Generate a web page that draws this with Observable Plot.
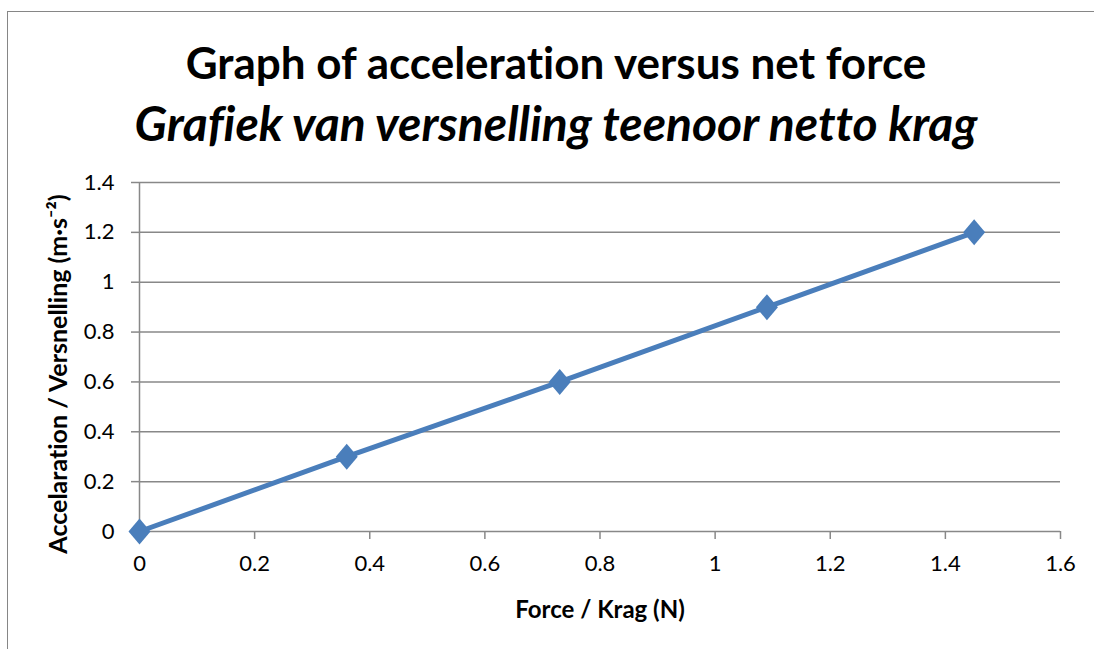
<!DOCTYPE html>
<html>
<head>
<meta charset="utf-8">
<script src="https://cdn.jsdelivr.net/npm/d3@7"></script>
<script src="https://cdn.jsdelivr.net/npm/@observablehq/plot@0.6"></script>
<style>
  html, body { margin: 0; padding: 0; background: #fff; }
  #wrap { position: relative; width: 1094px; height: 649px; overflow: hidden; font-family: Lato, "Open Sans", sans-serif; font-variant-ligatures: none; }
  #frame { position: absolute; left: 7px; top: 11px; width: 1100px; height: 700px; border: 1.5px solid #868686; box-sizing: border-box; }
  .t { position: absolute; left: 0; width: 1112px; text-align: center; color: #000; font-weight: bold; white-space: nowrap; }
  #t1 { top: 36px; font-size: 44px; }
  #t2 { top: 94px; font-size: 48px; font-style: italic; }
  #chart { position: absolute; left: 0; top: 0; }
  #chart svg text { font-variant-ligatures: none; }
</style>
</head>
<body>
<div id="wrap">
  <div id="frame"></div>
  <div class="t" id="t1">Graph of acceleration versus net force</div>
  <div class="t" id="t2">Grafiek van versnelling teenoor netto krag</div>
  <div id="chart"></div>
</div>
<script>
const force = [0, 0.36, 0.73, 1.09, 1.45];
const acceleration = [0, 0.3, 0.6, 0.9, 1.2];
const xTicks = [0, 0.2, 0.4, 0.6, 0.8, 1, 1.2, 1.4, 1.6];
const yTicks = [0, 0.2, 0.4, 0.6, 0.8, 1, 1.2, 1.4];
const xLabel = "Force / Krag (N)";
const yLabel = "Accelaration / Versnelling (m·s⁻²)";

const data = force.map((f, i) => ({force: f, acc: acceleration[i]}));

const diamond = {
  draw(ctx, size) {
    const w = 11, h = 13;
    ctx.moveTo(0, -h); ctx.lineTo(w, 0); ctx.lineTo(0, h); ctx.lineTo(-w, 0); ctx.closePath();
  }
};

const blue = "#4a7ebb";
const gray = "#888888";

const chart = Plot.plot({
  width: 1094,
  height: 649,
  marginLeft: 139,
  marginRight: 34,
  marginTop: 182,
  marginBottom: 118,
  style: {fontFamily: "Lato, 'Open Sans', sans-serif", fontSize: "22px", color: "#000", background: "transparent", overflow: "visible"},
  x: {domain: [0, 1.6], ticks: xTicks},
  y: {domain: [0, 1.4], ticks: yTicks},
  marks: [
    Plot.ruleY(yTicks.filter(d => d > 0), {stroke: gray, strokeWidth: 1.5}),
    Plot.ruleX([0], {stroke: gray, strokeWidth: 1.5}),
    Plot.ruleY([0], {stroke: gray, strokeWidth: 1.5}),
    Plot.axisX({ticks: xTicks, tickSize: 8, tickPadding: 16, stroke: gray, strokeWidth: 1.5, tickFormat: d => String(d), fontSize: 22,
      label: xLabel, labelAnchor: "center", labelArrow: "none", labelOffset: 86}),
    Plot.axisY({ticks: yTicks, tickSize: 8, tickPadding: 17, stroke: gray, strokeWidth: 1.5, tickFormat: d => String(d), fontSize: 22,
      label: null}),
    Plot.text([yLabel], {text: d => d, frameAnchor: "left", textAnchor: "middle", rotate: -90, dx: -81, dy: 17,
      fontSize: 25, fontWeight: "bold", fill: "#000"}),
    Plot.line(data, {x: "force", y: "acc", stroke: blue, strokeWidth: 5}),
    Plot.dot(data, {x: "force", y: "acc", fill: blue, stroke: "none", symbol: diamond, r: 8})
  ]
});
chart.querySelectorAll("g[aria-label='x-axis label'] text").forEach(t => {
  t.setAttribute("font-weight", "bold");
  t.style.fontWeight = "bold";
  t.style.fontSize = "24px";
});
document.getElementById("chart").appendChild(chart);
</script>
</body>
</html>
